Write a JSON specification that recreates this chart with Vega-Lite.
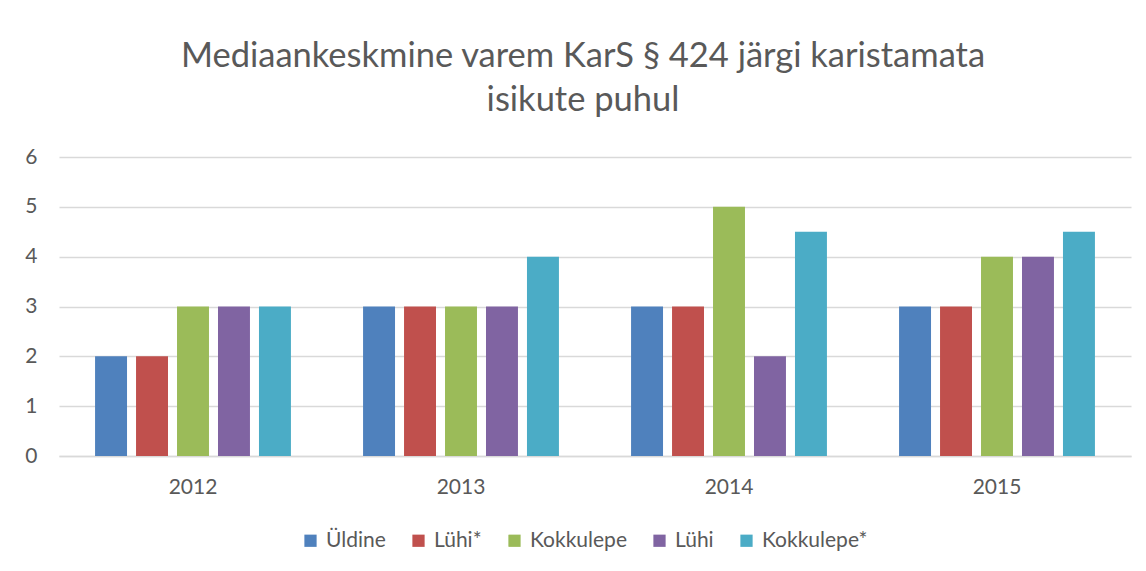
{
  "$schema": "https://vega.github.io/schema/vega-lite/v6.json",
  "width": 1072,
  "height": 299,
  "autosize": "none",
  "padding": {"left": 59, "top": 157, "right": 15, "bottom": 115},
  "background": "white",
  "title": {
    "text": ["Mediaankeskmine varem KarS § 424 järgi karistamata", "isikute puhul"],
    "font": "Lato",
    "fontSize": 34.5,
    "fontWeight": "normal",
    "color": "#595959",
    "lineHeight": 44,
    "anchor": "middle",
    "dx": -12,
    "offset": 28
  },
  "data": {
    "values": [
      {"year": "2012", "series": "Üldine", "value": 2},
      {"year": "2012", "series": "Lühi*", "value": 2},
      {"year": "2012", "series": "Kokkulepe", "value": 3},
      {"year": "2012", "series": "Lühi", "value": 3},
      {"year": "2012", "series": "Kokkulepe*", "value": 3},
      {"year": "2013", "series": "Üldine", "value": 3},
      {"year": "2013", "series": "Lühi*", "value": 3},
      {"year": "2013", "series": "Kokkulepe", "value": 3},
      {"year": "2013", "series": "Lühi", "value": 3},
      {"year": "2013", "series": "Kokkulepe*", "value": 4},
      {"year": "2014", "series": "Üldine", "value": 3},
      {"year": "2014", "series": "Lühi*", "value": 3},
      {"year": "2014", "series": "Kokkulepe", "value": 5},
      {"year": "2014", "series": "Lühi", "value": 2},
      {"year": "2014", "series": "Kokkulepe*", "value": 4.5},
      {"year": "2015", "series": "Üldine", "value": 3},
      {"year": "2015", "series": "Lühi*", "value": 3},
      {"year": "2015", "series": "Kokkulepe", "value": 4},
      {"year": "2015", "series": "Lühi", "value": 4},
      {"year": "2015", "series": "Kokkulepe*", "value": 4.5}
    ]
  },
  "mark": {"type": "bar"},
  "encoding": {
    "x": {
      "field": "year",
      "type": "nominal",
      "scale": {"paddingInner": 0, "paddingOuter": 0},
      "axis": {
        "title": null,
        "labelAngle": 0,
        "labelFont": "Lato",
        "labelFontSize": 21,
        "labelColor": "#595959",
        "labelPadding": 20,
        "ticks": false,
        "domainColor": "#D9D9D9",
        "domainWidth": 1.5,
        "grid": false
      }
    },
    "xOffset": {
      "field": "series",
      "type": "nominal",
      "scale": {"domain": ["Üldine", "Lühi*", "Kokkulepe", "Lühi", "Kokkulepe*"], "paddingInner": 0.22, "paddingOuter": 0.88}
    },
    "y": {
      "field": "value",
      "type": "quantitative",
      "scale": {"domain": [0, 6], "nice": false},
      "axis": {
        "title": null,
        "values": [0, 1, 2, 3, 4, 5, 6],
        "labelOverlap": false,
        "labelFont": "Lato",
        "labelFontSize": 21,
        "labelColor": "#595959",
        "labelPadding": 22,
        "ticks": false,
        "domain": false,
        "gridColor": "#D9D9D9",
        "gridWidth": 1.5
      }
    },
    "color": {
      "field": "series",
      "type": "nominal",
      "scale": {
        "domain": ["Üldine", "Lühi*", "Kokkulepe", "Lühi", "Kokkulepe*"],
        "range": ["#4F81BD", "#C0504D", "#9BBB59", "#8064A2", "#4BACC6"]
      },
      "legend": {
        "title": null,
        "orient": "none",
        "direction": "horizontal",
        "legendX": 241,
        "legendY": 373,
        "symbolType": "square",
        "symbolSize": 150,
        "symbolStrokeWidth": 0,
        "labelFont": "Lato",
        "labelFontSize": 21,
        "labelColor": "#595959",
        "labelOffset": 5,
        "columnPadding": 22
      }
    }
  },
  "config": {
    "view": {"stroke": null}
  }
}
